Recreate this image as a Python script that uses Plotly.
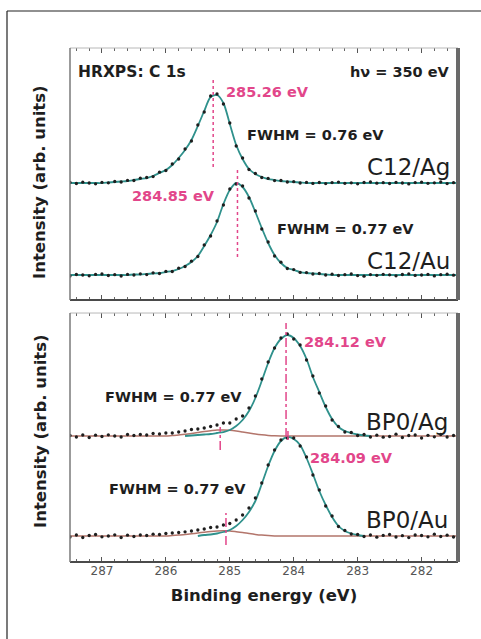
import plotly.graph_objects as go

# ---------------- data ----------------
# binding-energy sampling grid (eV)
energy_ev = [287.5, 287.4, 287.3, 287.2, 287.1, 287.0, 286.9, 286.8, 286.7, 286.6,
             286.5, 286.4, 286.3, 286.2, 286.1, 286.0, 285.9, 285.8, 285.7, 285.6,
             285.5, 285.4, 285.3, 285.2, 285.1, 285.0, 284.9, 284.8, 284.7, 284.6,
             284.5, 284.4, 284.3, 284.2, 284.1, 284.0, 283.9, 283.8, 283.7, 283.6,
             283.5, 283.4, 283.3, 283.2, 283.1, 283.0, 282.9, 282.8, 282.7, 282.6,
             282.5, 282.4, 282.3, 282.2, 282.1, 282.0, 281.9, 281.8, 281.7, 281.6,
             281.5, 281.4]

# vertical offsets of each spectrum inside its panel (arb. units)
offset_c12_ag = 117
offset_c12_au = 25
offset_bp0_ag = 126
offset_bp0_au = 26

# C12/Ag
c12_ag_fit = [0, 0, 0, 0, 0, 0, 0.5, 1, 1.5, 2,
              3, 4, 5, 7, 10, 13, 18, 25, 33, 43,
              57, 72, 86, 88, 80, 59, 38, 24, 14, 9,
              6, 4, 3, 2, 1.5, 1, 0.5, 0, 0, 0,
              0, 0, 0, 0, 0, 0, 0, 0, 0, 0,
              0, 0, 0, 0, 0, 0, 0, 0, 0, 0,
              0, 0]
c12_ag_data = [0.5, -0.5, 0.8, 0, -0.8, 0.6, 0.2, 1.5, 1, 2.6,
               2.5, 4.8, 5.5, 6.4, 10.8, 12.5, 19, 24, 34, 42,
               58, 71, 87, 89, 79, 60, 37, 25, 13.5, 9.5,
               5.5, 4.6, 2.4, 2.5, 1, 1.3, 0, 0.6, -0.4, 0.5,
               -0.6, 0.4, 0.9, -0.3, 0.2, -0.8, 0.5, 1, -0.2, 0.3,
               -0.5, 0.6, 0, -0.9, 0.4, 0.8, -0.3, 0.2, 1, -0.6,
               0.3, 0]

# C12/Au
c12_au_fit = [0, 0, 0, 0, 0, 0, 0, 0, 0, 0,
              0.5, 0.5, 1, 1.5, 2, 3, 4, 6, 9, 13,
              19, 29, 40, 53, 71, 85, 92, 88, 78, 63,
              47, 32, 20, 12, 7, 5, 3, 2, 1.5, 1,
              0.5, 0, 0, 0, 0, 0, 0, 0, 0, 0,
              0, 0, 0, 0, 0, 0, 0, 0, 0, 0,
              0, 0]
c12_au_data = [-1, 0.5, 0, -0.8, 0.6, 1, -0.5, 0.3, -1, 0.6,
               0, 1.2, 0.4, 2.2, 1.5, 3.6, 3.5, 6.8, 8.5, 13.8,
               18.5, 30, 39, 54, 70, 86, 91, 89, 77, 64,
               46, 33, 19, 12.8, 6.5, 5.4, 2.6, 2.4, 1, 1.5,
               0, 0.8, -0.5, 0.3, 1, -0.6, -1.2, 0.4, -0.3, 0.7,
               0.2, -0.8, 0.5, 1.1, -0.4, 0, 0.6, -0.9, 0.3, 0.8,
               -0.2, 0.4]

# BP0/Ag
bp0_ag_fit = [None] * 18 + [
    0, 0.5,
    1, 1.5, 2, 3, 4, 6, 10, 16, 25, 38,
    55, 73, 88, 97, 101, 98, 90, 77, 59, 44,
    29, 17, 9, 5, 3, 1.5, 0.5, 0] + [None] * 14
bp0_ag_shoulder = [0, 0, 0, 0, 0, 0, 0, 0, 0, 0,
                   0, 0, 0, 0, 0, 0, 0.5, 1, 1.8, 2.5,
                   3.5, 4.5, 5.3, 6, 6, 5.7, 5, 4, 3, 2,
                   1.2, 0.6, 0.2, 0, 0, 0, 0, 0, 0, 0,
                   0, 0, 0, 0, 0, 0, 0, 0, 0, 0,
                   0, 0, 0, 0, 0, 0, 0, 0, 0, 0,
                   0, 0]
bp0_ag_data = [0.5, -1, 1, -1.5, 0.8, -0.5, 1.2, 0, -1, 1.5,
               0.5, 1.5, 1, 2.5, 2, 3, 3, 4, 5, 6.5,
               7, 8, 9.5, 11, 13, 13, 17, 20, 28, 40,
               57, 74, 88, 98, 102, 97, 91, 76, 60, 43,
               30, 16, 9.5, 4, 3.5, 0.5, 1.5, -1, 0.8, -1.2,
               -0.5, 1.8, -1.5, 0.5, 1, -2, 0.7, -0.8, 1.5, -1,
               0.5, -0.6]

# BP0/Au
bp0_au_fit = [None] * 20 + [
    0, 1, 1.5, 2.5, 4, 6, 10, 16, 24, 35,
    52, 70, 85, 95, 99, 97, 91, 78, 62, 45,
    31, 19, 10, 5, 2.5, 1, 0] + [None] * 15
bp0_au_shoulder = [0, 0, 0, 0, 0, 0, 0, 0, 0, 0,
                   0, 0, 0, 0, 0, 0, 0.5, 1, 1.5, 2.2,
                   3, 3.8, 4.5, 5, 5.2, 5, 4.3, 3.5, 2.5, 1.6,
                   0.9, 0.4, 0.1, 0, 0, 0, 0, 0, 0, 0,
                   0, 0, 0, 0, 0, 0, 0, 0, 0, 0,
                   0, 0, 0, 0, 0, 0, 0, 0, 0, 0,
                   0, 0]
bp0_au_data = [-1, 1, -1.5, 0.5, 1.5, -0.8, 0, 1.2, -1.5, 0.8,
               -0.5, 1, 0.5, 1.8, 1.5, 2.5, 3, 3.5, 4.2, 5,
               6, 7, 8.5, 9, 11, 12.5, 16, 21, 28, 38,
               53, 71, 86, 96, 98, 98, 90, 79, 61, 46,
               30, 20, 9.5, 5.5, 2, 1.5, -0.5, 1, -1.2, 0.6,
               1.5, -1, 0.3, -1.6, 1, 0.5, -0.8, 1.8, -0.5, 0.8,
               -1, 0.4]

# peak-position markers: (energy, y_start, y_end, panel)
peak_markers = [
    (285.26, 133, 220, "y"),
    (284.88, 43, 130, "y"),
    (284.12, 125, 239, "y2"),
    (285.15, 112, 135, "y2"),
    (284.09, 122, 132, "y2"),
    (285.06, 17, 49, "y2"),
]

tick_values = [287, 286, 285, 284, 283, 282]
tick_text = ["287", "286", "285", "284", "283", "282"]

# ---------------- styling ----------------
TEAL = "#2f918c"
BROWN = "#b3756b"
PINK = "#e2468a"
DARK = "#1e1e1e"
FONT_B = "DejaVu Sans"


def shifted(vals, off):
    return [None if v is None else v + off for v in vals]


fig = go.Figure()

# top panel
for fit, data, off in [(c12_ag_fit, c12_ag_data, offset_c12_ag),
                       (c12_au_fit, c12_au_data, offset_c12_au)]:
    fig.add_trace(go.Scatter(x=energy_ev, y=shifted(fit, off), mode="lines",
                             line=dict(color=TEAL, width=1.8, shape="spline", smoothing=0.8),
                             xaxis="x", yaxis="y", showlegend=False, hoverinfo="skip"))
    fig.add_trace(go.Scatter(x=energy_ev, y=shifted(data, off), mode="markers",
                             marker=dict(color=DARK, size=3.3),
                             xaxis="x", yaxis="y", showlegend=False))

# bottom panel
for fit, sh, data, off in [(bp0_ag_fit, bp0_ag_shoulder, bp0_ag_data, offset_bp0_ag),
                           (bp0_au_fit, bp0_au_shoulder, bp0_au_data, offset_bp0_au)]:
    fig.add_trace(go.Scatter(x=energy_ev, y=shifted(sh, off), mode="lines",
                             line=dict(color=BROWN, width=1.5, shape="spline", smoothing=0.8),
                             xaxis="x2", yaxis="y2", showlegend=False, hoverinfo="skip"))
    fig.add_trace(go.Scatter(x=energy_ev, y=shifted(fit, off), mode="lines",
                             line=dict(color=TEAL, width=1.8, shape="spline", smoothing=0.8),
                             connectgaps=False,
                             xaxis="x2", yaxis="y2", showlegend=False, hoverinfo="skip"))
    fig.add_trace(go.Scatter(x=energy_ev, y=shifted(data, off),
                             mode="markers", marker=dict(color=DARK, size=3.3),
                             xaxis="x2", yaxis="y2", showlegend=False))

# dashed peak markers
for e, y0, y1, yax in peak_markers:
    fig.add_trace(go.Scatter(x=[e, e], y=[y0, y1], mode="lines",
                             line=dict(color=PINK, width=1.5, dash="dot" if yax == "y" else "dashdot"),
                             xaxis="x" if yax == "y" else "x2", yaxis=yax,
                             showlegend=False, hoverinfo="skip"))

# invisible traces carrying the top (mirrored) tick axes
for xa, ya in [("x3", "y"), ("x4", "y2")]:
    fig.add_trace(go.Scatter(x=[energy_ev[0], energy_ev[-1]], y=[None, None], mode="lines",
                             xaxis=xa, yaxis=ya, showlegend=False, hoverinfo="skip"))

x_range = [287.5, 281.43]
tick_style = dict(range=x_range, tickvals=tick_values, ticktext=tick_text,
                  ticks="inside", ticklen=5, tickwidth=1, tickcolor="#555",
                  minor=dict(ticks="inside", ticklen=3, dtick=0.2, tickcolor="#666", tickwidth=1),
                  showgrid=False, zeroline=False)

fig.update_layout(
    width=481, height=639,
    margin=dict(l=70, r=23, t=48, b=77),
    paper_bgcolor="white", plot_bgcolor="white",
    font=dict(family=FONT_B, color=DARK),
    xaxis=dict(domain=[0, 1], anchor="y", showticklabels=False, showline=False, **tick_style),
    xaxis3=dict(domain=[0, 1], anchor="y", overlaying="x", side="top",
                showticklabels=False, showline=False, **tick_style),
    yaxis=dict(domain=[0.5097, 1], range=[0, 252], showticklabels=False, ticks="",
               showgrid=False, zeroline=False, showline=False),
    xaxis2=dict(domain=[0, 1], anchor="y2", showticklabels=True, showline=False,
                tickfont=dict(family=FONT_B, size=12, color="#555"),
                title=dict(text="<b>Binding energy (eV)</b>", standoff=12,
                           font=dict(family=FONT_B, size=16.5, color=DARK)),
                **tick_style),
    xaxis4=dict(domain=[0, 1], anchor="y2", overlaying="x2", side="top",
                showticklabels=False, showline=False, **tick_style),
    yaxis2=dict(domain=[0, 0.4844], range=[0, 249], showticklabels=False, ticks="",
                showgrid=False, zeroline=False, showline=False),
)

# panel frames
for xd, yd in [("x domain", "y domain"), ("x2 domain", "y2 domain")]:
    fig.add_shape(type="line", xref=xd, yref=yd, x0=0, x1=1, y0=1, y1=1,
                  line=dict(color="#b8b8b8", width=1))
    fig.add_shape(type="line", xref=xd, yref=yd, x0=0, x1=1, y0=0, y1=0,
                  line=dict(color="#4a4a4a", width=2))
    fig.add_shape(type="line", xref=xd, yref=yd, x0=0, x1=0, y0=0, y1=1,
                  line=dict(color="#7a7a7a", width=1.5))
    fig.add_shape(type="line", xref=xd, yref=yd, x0=1, x1=1, y0=0, y1=1,
                  line=dict(color="#6a6a6a", width=4))

# outer figure border (top and left edges)
px_to_px = lambda px: (px - 70) / 388.0
py_to_py = lambda py: (562 - py) / 514.0
fig.add_shape(type="line", xref="paper", yref="paper",
              x0=px_to_px(7), x1=px_to_px(485), y0=py_to_py(11), y1=py_to_py(11),
              line=dict(color="#222", width=1.2))
fig.add_shape(type="line", xref="paper", yref="paper",
              x0=px_to_px(7), x1=px_to_px(7), y0=py_to_py(11), y1=py_to_py(645),
              line=dict(color="#222", width=1.2))


def ann(text, x, y, xanchor, yref, size, color=DARK, bold=True):
    fig.add_annotation(text=f"<b>{text}</b>" if bold else text, x=x, y=y,
                       xref="x" if yref == "y" else "x2", yref=yref,
                       xanchor=xanchor, yanchor="middle", showarrow=False,
                       font=dict(family=FONT_B, size=size, color=color))


ann("HRXPS: C 1s", 287.41, 228, "left", "y", 15.5)
ann("hν = 350 eV", 281.52, 228, "right", "y", 14.5)
ann("285.26 eV", 285.09, 208, "left", "y", 14.5, PINK)
ann("FWHM = 0.76 eV", 284.76, 165, "left", "y", 14.5)
ann("C12/Ag", 281.52, 133, "right", "y", 23, bold=False)
ann("284.85 eV", 285.20, 104, "right", "y", 14.5, PINK)
ann("FWHM = 0.77 eV", 284.29, 71, "left", "y", 14.5)
ann("C12/Au", 281.52, 39, "right", "y", 23, bold=False)

ann("284.12 eV", 283.87, 220, "left", "y2", 14.5, PINK)
ann("FWHM = 0.77 eV", 286.98, 165, "left", "y2", 14.5)
ann("BP0/Ag", 281.55, 140, "right", "y2", 23, bold=False)
ann("284.09 eV", 283.78, 104, "left", "y2", 14.5, PINK)
ann("FWHM = 0.77 eV", 286.92, 73, "left", "y2", 14.5)
ann("BP0/Au", 281.55, 42, "right", "y2", 23, bold=False)

# y-axis titles
for yc in [182, 431]:
    fig.add_annotation(text="<b>Intensity (arb. units)</b>", xref="paper", yref="paper",
                       x=px_to_px(40), y=py_to_py(yc), textangle=-90, showarrow=False,
                       xanchor="center", yanchor="middle",
                       font=dict(family=FONT_B, size=16.5, color=DARK))

fig.write_html("out.html")
